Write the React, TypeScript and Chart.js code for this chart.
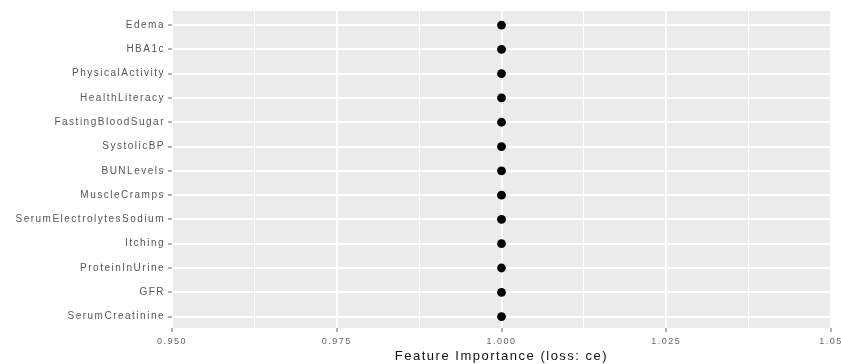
import React, { useEffect, useRef } from 'react';
import { Chart, registerables } from 'chart.js';

Chart.register(...registerables);

const features = [
  'Edema',
  'HBA1c',
  'PhysicalActivity',
  'HealthLiteracy',
  'FastingBloodSugar',
  'SystolicBP',
  'BUNLevels',
  'MuscleCramps',
  'SerumElectrolytesSodium',
  'Itching',
  'ProteinInUrine',
  'GFR',
  'SerumCreatinine',
];
const importance = [1.0, 1.0, 1.0, 1.0, 1.0, 1.0, 1.0, 1.0, 1.0, 1.0, 1.0, 1.0, 1.0];
const xMajorTicks = [0.95, 0.975, 1.0, 1.025, 1.05];
const xTickLabels = ['0.950', '0.975', '1.000', '1.025', '1.05'];
const xAxisTitle = 'Feature Importance (loss: ce)';

const FONT = "'Liberation Sans', Arial, sans-serif";

export default function App() {
  const ref = useRef<HTMLCanvasElement>(null);

  useEffect(() => {
    document.body.style.margin = '0';
    const canvas = ref.current;
    if (!canvas) return;

    const panelBg = {
      id: 'panelBg',
      beforeDraw(chart: any) {
        const { ctx, chartArea: a } = chart;
        ctx.save();
        ctx.fillStyle = '#EBEBEB';
        ctx.fillRect(a.left, a.top, a.right - a.left, a.bottom - a.top);
        ctx.restore();
        (ctx as any).letterSpacing = '1.5px';
      },
      afterDraw(chart: any) {
        (chart.ctx as any).letterSpacing = '0px';
      },
    };

    const allXTicks: number[] = [];
    xMajorTicks.forEach((v, i) => {
      allXTicks.push(v);
      if (i < xMajorTicks.length - 1) allXTicks.push((v + xMajorTicks[i + 1]) / 2);
    });

    const chart = new Chart(canvas, {
      type: 'scatter',
      data: {
        datasets: [
          {
            data: features.map((f, i) => ({ x: importance[i], y: i })),
            pointRadius: 4.4,
            pointHoverRadius: 4.4,
            backgroundColor: '#000000',
            borderWidth: 0,
          },
        ],
      },
      options: {
        animation: false,
        responsive: false,
        devicePixelRatio: 1,
        layout: { padding: { top: 11, right: 10, left: 0, bottom: 0 } },
        plugins: {
          legend: { display: false },
          tooltip: { enabled: false },
        },
        scales: {
          x: {
            type: 'linear',
            min: xMajorTicks[0],
            max: xMajorTicks[xMajorTicks.length - 1],
            afterBuildTicks: (s: any) => {
              s.ticks = allXTicks.map((v) => ({ value: v }));
            },
            afterFit: (s: any) => {
              s.height = 36;
              s.paddingLeft = 0;
              s.paddingRight = 0;
            },
            ticks: {
              autoSkip: false,
              maxRotation: 0,
              padding: 4,
              color: '#666666',
              font: { family: FONT, size: 9 },
              callback: (v: any, i: number) => (i % 2 === 0 ? xTickLabels[i / 2] : ''),
            },
            grid: {
              color: '#FFFFFF',
              lineWidth: (c: any) => (c.index % 2 === 0 ? 2 : 1),
              drawTicks: true,
              tickLength: 4,
              tickWidth: 1,
              tickColor: (c: any) => (c.index % 2 === 0 ? '#666666' : 'rgba(0,0,0,0)'),
            },
            border: { display: false },
            title: {
              display: true,
              text: xAxisTitle,
              color: '#111111',
              font: { family: FONT, size: 13 },
              padding: { top: 0, bottom: 0 },
            },
          },
          y: {
            type: 'linear',
            reverse: true,
            min: -0.58,
            max: features.length - 1 + 0.47,
            afterBuildTicks: (s: any) => {
              s.ticks = features.map((_, i) => ({ value: i }));
            },
            afterFit: (s: any) => {
              s.width = 172;
              s.paddingTop = 0;
              s.paddingBottom = 0;
            },
            ticks: {
              autoSkip: false,
              padding: 3,
              color: '#555555',
              font: { family: FONT, size: 10 },
              callback: (v: any) => features[Math.round(Number(v))] ?? '',
            },
            grid: {
              color: '#FFFFFF',
              lineWidth: 2,
              drawTicks: true,
              tickLength: 4,
              tickWidth: 1,
              tickColor: '#666666',
            },
            border: { display: false },
          },
        },
      },
      plugins: [panelBg],
    });

    return () => chart.destroy();
  }, []);

  return (
    <div style={{ width: 841, height: 364 }}>
      <canvas ref={ref} width={841} height={364} style={{ display: 'block' }} />
    </div>
  );
}
